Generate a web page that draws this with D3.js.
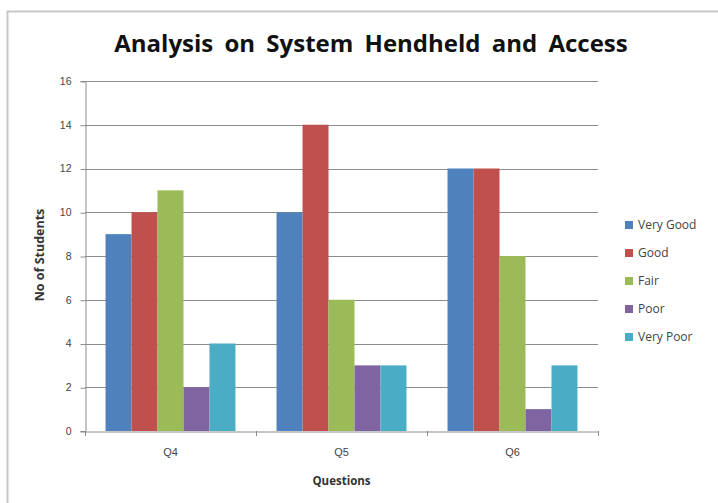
<!DOCTYPE html>
<html>
<head>
<meta charset="utf-8">
<script src="https://cdn.jsdelivr.net/npm/d3@7"></script>
<style>
  body { margin: 0; background: #fff; }
  svg { font-family: "Open Sans", "DejaVu Sans", sans-serif; }
</style>
</head>
<body>
<svg id="chart" width="718" height="503"></svg>
<script>
const categories = ['Q4', 'Q5', 'Q6'];
const seriesNames = ['Very Good', 'Good', 'Fair', 'Poor', 'Very Poor'];
const seriesColors = ['#4f81bd', '#c0504d', '#9bbb59', '#8064a2', '#4bacc6'];
const veryGood = [9, 10, 12];
const good = [10, 14, 12];
const fair = [11, 6, 8];
const poor = [2, 3, 1];
const veryPoor = [4, 3, 3];
const yTicks = [0, 2, 4, 6, 8, 10, 12, 14, 16];

const seriesValues = [veryGood, good, fair, poor, veryPoor];

const MARGIN = {top: 81, right: 120, bottom: 72, left: 85};
const WIDTH = 718, HEIGHT = 503;

const svg = d3.select('#chart');

// chart area border
svg.append('rect')
    .attr('x', 7.5).attr('y', 11.5)
    .attr('width', 740).attr('height', 520)
    .attr('fill', '#fff')
    .attr('stroke', '#c8c8c8')
    .attr('stroke-width', 2);

const xScale = d3.scaleBand()
    .domain(categories)
    .range([MARGIN.left, WIDTH - MARGIN.right])
    .padding(0);

const innerScale = d3.scaleBand()
    .domain(seriesNames)
    .range([0, xScale.bandwidth()])
    .paddingOuter(0.79)
    .paddingInner(0);

const yScale = d3.scaleLinear()
    .domain([0, 16])
    .range([HEIGHT - MARGIN.bottom, MARGIN.top]);

// gridlines
svg.append('g')
    .selectAll('line')
    .data(yTicks.filter(d => d > 0))
    .join('line')
    .attr('x1', MARGIN.left)
    .attr('x2', WIDTH - MARGIN.right)
    .attr('y1', d => Math.round(yScale(d)) + 0.5)
    .attr('y2', d => Math.round(yScale(d)) + 0.5)
    .attr('stroke', '#8c8c8c')
    .attr('stroke-width', 1);

// bars
const groups = svg.append('g')
    .selectAll('g')
    .data(categories)
    .join('g')
    .attr('transform', d => `translate(${xScale(d)},0)`);

groups.selectAll('rect')
    .data((d, i) => seriesNames.map((s, j) => ({series: s, value: seriesValues[j][i], color: seriesColors[j]})))
    .join('rect')
    .attr('x', d => innerScale(d.series))
    .attr('width', innerScale.bandwidth())
    .attr('y', d => yScale(d.value))
    .attr('height', d => yScale(0) - yScale(d.value))
    .attr('fill', d => d.color);

// y axis
const yAxis = d3.axisLeft(yScale)
    .tickValues(yTicks)
    .tickSize(5)
    .tickPadding(9)
    .tickFormat(d3.format('d'));
const yAxisG = svg.append('g')
    .attr('transform', `translate(${MARGIN.left + 0.5},0)`)
    .call(yAxis);
yAxisG.selectAll('.tick line').attr('stroke', '#8c8c8c')
    .attr('transform', 'translate(0,0.5)');
yAxisG.select('.domain').attr('stroke', '#8c8c8c');
yAxisG.selectAll('text').attr('fill', '#444').attr('font-size', 10.5);

// x axis
const xAxis = d3.axisBottom(xScale)
    .tickSize(0)
    .tickPadding(17);
const xAxisG = svg.append('g')
    .attr('transform', `translate(0,${yScale(0) + 0.5})`)
    .call(xAxis);
xAxisG.select('.domain').attr('stroke', '#8c8c8c');
xAxisG.selectAll('text').attr('fill', '#444').attr('font-size', 11);

// category boundary ticks
svg.append('g')
    .selectAll('line')
    .data(categories.concat(['end']))
    .join('line')
    .attr('x1', (d, i) => i < categories.length ? xScale(d) + 0.5 : xScale.range()[1] + 0.5)
    .attr('x2', (d, i) => i < categories.length ? xScale(d) + 0.5 : xScale.range()[1] + 0.5)
    .attr('y1', yScale(0))
    .attr('y2', yScale(0) + 5)
    .attr('stroke', '#8c8c8c');

// title
svg.append('text')
    .attr('x', 371)
    .attr('y', 52)
    .attr('text-anchor', 'middle')
    .attr('font-size', 24)
    .attr('font-weight', 'bold')
    .attr('word-spacing', 5)
    .attr('fill', '#111')
    .text('Analysis on System Hendheld and Access');

// axis titles
svg.append('text')
    .attr('x', xScale.range()[0] + (xScale.range()[1] - xScale.range()[0]) / 2)
    .attr('y', 485)
    .attr('text-anchor', 'middle')
    .attr('font-size', 11.5)
    .attr('font-weight', 'bold')
    .attr('fill', '#333')
    .text('Questions');

svg.append('text')
    .attr('transform', 'translate(44,255) rotate(-90)')
    .attr('text-anchor', 'middle')
    .attr('font-size', 12.5)
    .attr('font-weight', 'bold')
    .attr('fill', '#333')
    .text('No of Students');

// legend
const legend = svg.append('g')
    .selectAll('g')
    .data(seriesNames)
    .join('g')
    .attr('transform', (d, i) => `translate(625,${225 + i * 28})`);

legend.append('rect')
    .attr('x', 0).attr('y', -4)
    .attr('width', 8).attr('height', 8)
    .attr('fill', (d, i) => seriesColors[i]);

legend.append('text')
    .attr('x', 13)
    .attr('y', 0)
    .attr('dy', '0.35em')
    .attr('font-size', 12)
    .attr('fill', '#444')
    .text(d => d);
</script>
</body>
</html>
